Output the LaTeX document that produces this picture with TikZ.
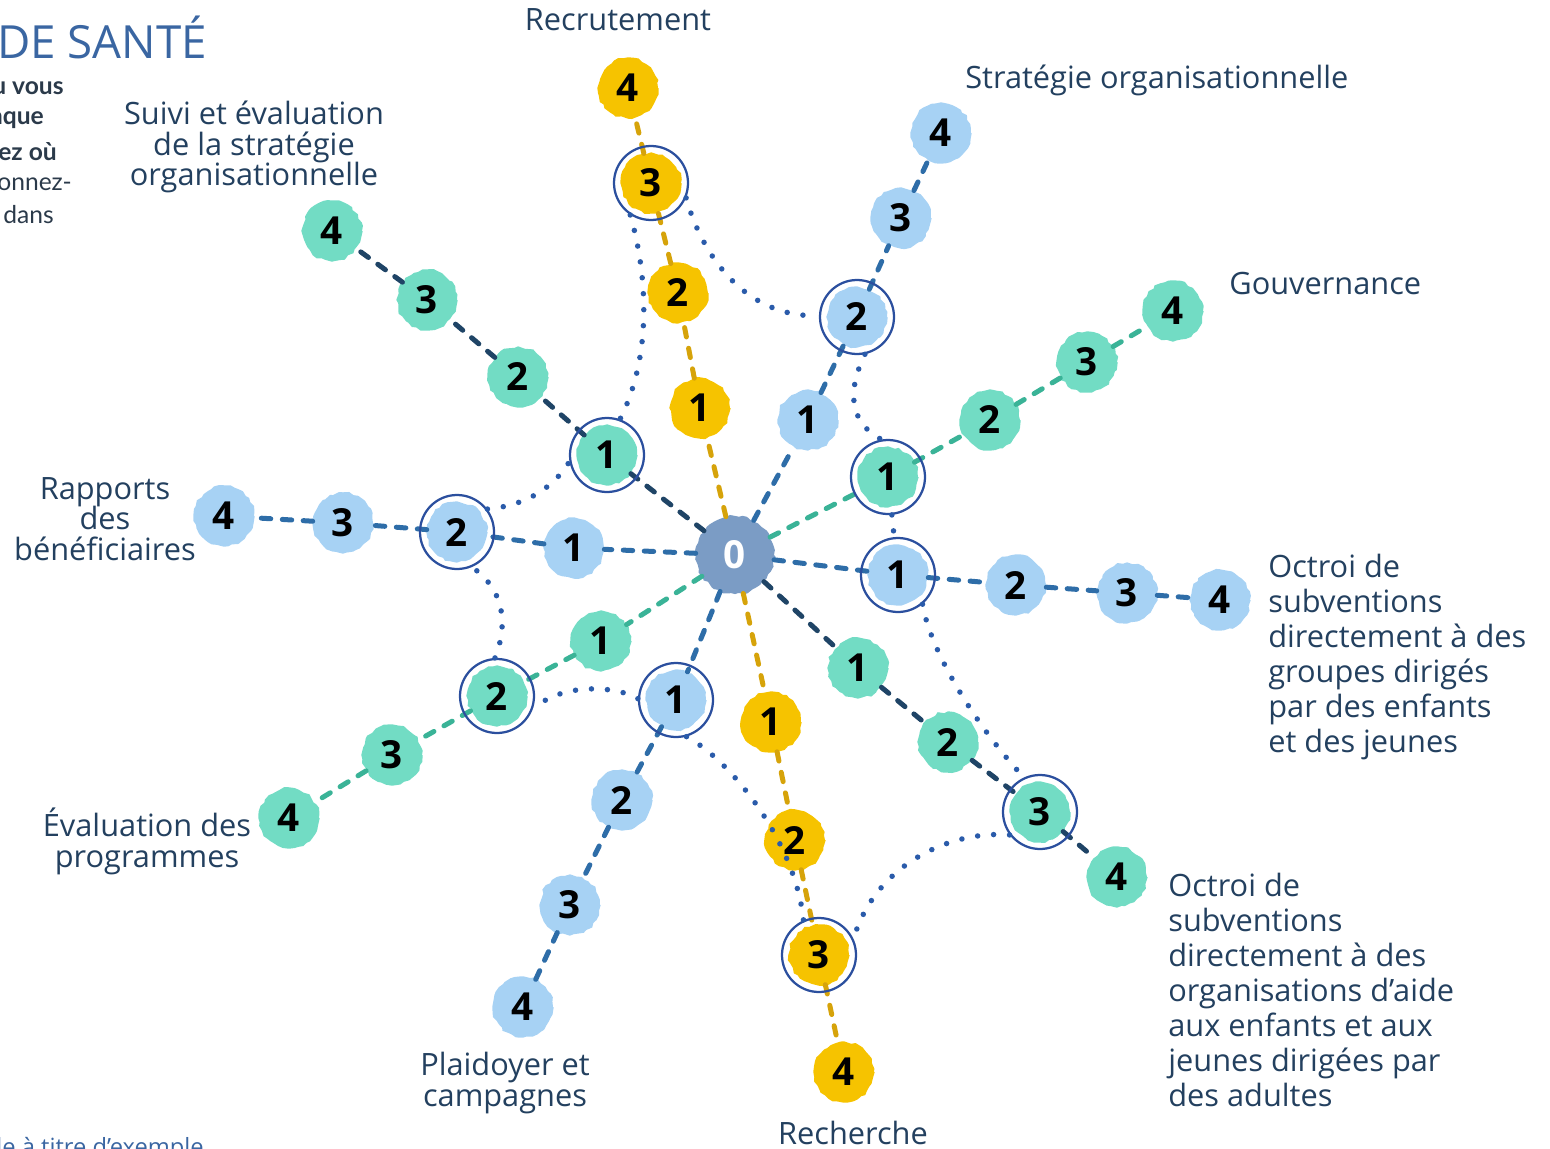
\documentclass[tikz,border=0pt]{standalone}
\usepackage{fontspec}
\setmainfont{Open Sans}
\newfontfamily\introfont{Lato}
\usetikzlibrary{decorations.pathmorphing}

\definecolor{yelfill}{HTML}{F6C300}
\definecolor{bluefill}{HTML}{A7D2F4}
\definecolor{tealfill}{HTML}{72DCC4}
\definecolor{hubfill}{HTML}{7B9CC5}
\definecolor{yeldash}{HTML}{D6A30A}
\definecolor{bluedash}{HTML}{2E6DA8}
\definecolor{tealdash}{HTML}{3AB397}
\definecolor{navydash}{HTML}{1F4466}
\definecolor{ringblue}{HTML}{2B4F9E}
\definecolor{dotblue}{HTML}{2A5BAA}
\definecolor{labelnavy}{HTML}{23405F}
\definecolor{titleblue}{HTML}{3A66A2}
\definecolor{introdark}{HTML}{2B3A4A}

\begin{document}
\begin{tikzpicture}[x=0.2mm, y=-0.2mm,
  blob/.style={circle, minimum size=12mm, inner sep=0pt, text=black,
    font=\fontsize{22}{22}\selectfont\bfseries,
    decorate, decoration={random steps, segment length=0.9mm, amplitude=0.25mm}},
  yel/.style={blob, fill=yelfill},
  blu/.style={blob, fill=bluefill},
  tea/.style={blob, fill=tealfill},
  ring/.style={circle, draw=ringblue, line width=0.45mm, minimum size=14.8mm, inner sep=0pt},
  spoke/.style={line width=1mm, line cap=round, dash pattern=on 1.9mm off 2.3mm},
  dots/.style={draw=dotblue, line width=1.1mm, line cap=round, dash pattern=on 0pt off 3.2mm},
  lbl/.style={text=labelnavy, align=center, inner sep=0pt, font=\fontsize{17.5}{17.5}\selectfont},
  lblwide/.style={lbl, align=left, anchor=west, font=\fontsize{17.5}{20}\selectfont},
  intro/.style={anchor=west, inner sep=0pt, text=introdark, font=\introfont\fontsize{14}{16}\selectfont}]
\useasboundingbox (0,0) rectangle (1550,1149);
\clip (0,0) rectangle (1550,1149);

% cut-off page text
\node[anchor=west, inner sep=0pt, text=titleblue, font=\fontsize{26}{26}\selectfont] (title) at (-3,37) {DE SANTÉ};
\node[intro, font=\introfont\fontsize{14}{16}\selectfont\bfseries] (intro1) at (-8,88) {u vous};
\node[intro, font=\introfont\fontsize{14}{16}\selectfont\bfseries] (intro2) at (-10,120) {aque};
\node[intro, font=\introfont\fontsize{14}{16}\selectfont\bfseries] (intro3) at (-2,152) {ez où};
\node[intro] (intro4) at (-3,184) {onnez-};
\node[intro] (intro5) at (3,215) {dans};
\node[anchor=north west, inner sep=0pt, text=titleblue, font=\fontsize{13.5}{13.5}\selectfont] (foot) at (-4,1137) {le à titre d’exemple};

% hub
\node[blob, fill=hubfill, minimum size=15.6mm, text=white] (o) at (735,555) {0};

% Recrutement
\node[yel] (r1) at (700,408) {1};
\node[yel] (r2) at (678,293) {2};
\node[yel] (r3) at (651,183) {3};
\node[yel] (r4) at (628,88) {4};
% Strategie organisationnelle
\node[blu] (s1) at (808,420) {1};
\node[blu] (s2) at (857,317) {2};
\node[blu] (s3) at (901,218) {3};
\node[blu] (s4) at (941,133) {4};
% Gouvernance
\node[tea] (g1) at (888,477) {1};
\node[tea] (g2) at (990,420) {2};
\node[tea] (g3) at (1087,362) {3};
\node[tea] (g4) at (1173,311) {4};
% Octroi, groupes
\node[blu] (og1) at (898,575) {1};
\node[blu] (og2) at (1016,585) {2};
\node[blu] (og3) at (1127,593) {3};
\node[blu] (og4) at (1220,600) {4};
% Octroi, organisations
\node[tea] (oo1) at (858,668) {1};
\node[tea] (oo2) at (948,742) {2};
\node[tea] (oo3) at (1040,812) {3};
\node[tea] (oo4) at (1117,877) {4};
% Recherche
\node[yel] (re1) at (771,722) {1};
\node[yel] (re2) at (795,840) {2};
\node[yel] (re3) at (819,955) {3};
\node[yel] (re4) at (844,1072) {4};
% Plaidoyer
\node[blu] (p1) at (676,700) {1};
\node[blu] (p2) at (622,800) {2};
\node[blu] (p3) at (570,905) {3};
\node[blu] (p4) at (523,1007) {4};
% Evaluation des programmes
\node[tea] (e1) at (601,641) {1};
\node[tea] (e2) at (497,696) {2};
\node[tea] (e3) at (392,755) {3};
\node[tea] (e4) at (289,818) {4};
% Rapports des beneficiaires
\node[blu] (b1) at (574,548) {1};
\node[blu] (b2) at (457,532) {2};
\node[blu] (b3) at (343,523) {3};
\node[blu] (b4) at (224,516) {4};
% Suivi et evaluation
\node[tea] (m1) at (607,455) {1};
\node[tea] (m2) at (518,377) {2};
\node[tea] (m3) at (427,300) {3};
\node[tea] (m4) at (332,231) {4};

% spokes
\draw[spoke, draw=yeldash] (o) -- (r1) -- (r2) -- (r3) -- (r4);
\draw[spoke, draw=bluedash] (o) -- (s1) -- (s2) -- (s3) -- (s4);
\draw[spoke, draw=tealdash] (o) -- (g1) -- (g2) -- (g3) -- (g4);
\draw[spoke, draw=bluedash] (o) -- (og1) -- (og2) -- (og3) -- (og4);
\draw[spoke, draw=navydash] (o) -- (oo1) -- (oo2) -- (oo3) -- (oo4);
\draw[spoke, draw=yeldash] (o) -- (re1) -- (re2) -- (re3) -- (re4);
\draw[spoke, draw=bluedash] (o) -- (p1) -- (p2) -- (p3) -- (p4);
\draw[spoke, draw=tealdash] (o) -- (e1) -- (e2) -- (e3) -- (e4);
\draw[spoke, draw=bluedash] (o) -- (b1) -- (b2) -- (b3) -- (b4);
\draw[spoke, draw=navydash] (o) -- (m1) -- (m2) -- (m3) -- (m4);

% chosen levels
\node[ring] (cr3) at (r3) {};
\node[ring] (cs2) at (s2) {};
\node[ring] (cg1) at (g1) {};
\node[ring] (cog1) at (og1) {};
\node[ring] (coo3) at (oo3) {};
\node[ring] (cre3) at (re3) {};
\node[ring] (cp1) at (p1) {};
\node[ring] (ce2) at (e2) {};
\node[ring] (cb2) at (b2) {};
\node[ring] (cm1) at (m1) {};

\draw[dots] (cr3.-23) .. controls (702,255) and (745,318) .. (cs2.178);
\draw[dots] (cs2.-78) .. controls (850,385) and (845,420) .. (cg1.100);
\draw[dots] (cg1) -- (cog1);
\draw[dots] (cog1.-50) .. controls (930,650) and (975,725) .. (coo3.115);
\draw[dots] (coo3.217) .. controls (950,830) and (875,865) .. (cre3.25);
\draw[dots] (cp1.-74) .. controls (730,760) and (795,840) .. (cre3.114);
\draw[dots] (cp1.178) .. controls (615,685) and (560,683) .. (ce2.-21);
\draw[dots] (ce2.93) .. controls (508,625) and (505,590) .. (cb2.-67);
\draw[dots] (cb2.37) .. controls (530,505) and (555,485) .. (cm1.190);
\draw[dots] (cr3.237) .. controls (645,265) and (655,350) .. (cm1.70);

% labels
\node[lbl] (tRec) at (618,20) {Recrutement};
\node[lbl, anchor=west] (tStr) at (965,80) {Stratégie organisationnelle};
\node[lbl] (tSui) at (254,147) {Suivi et évaluation\\de la stratégie\\organisationnelle};
\node[lbl, anchor=west] (tGou) at (1229,284) {Gouvernance};
\node[lbl] (tRap) at (105,519) {Rapports\\des\\bénéficiaires};
\node[lblwide] (tOg) at (1268,657) {Octroi de\\subventions\\directement à des\\groupes dirigés\\par des enfants\\et des jeunes};
\node[lblwide] (tOo) at (1168,990) {Octroi de\\subventions\\directement à des\\organisations d’aide\\aux enfants et aux\\jeunes dirigées par\\des adultes};
\node[lbl] (tEva) at (147,841) {Évaluation des\\programmes};
\node[lbl] (tPla) at (505,1083) {Plaidoyer et\\campagnes};
\node[lbl] (tRech) at (853,1133) {Recherche};
\end{tikzpicture}
\end{document}
